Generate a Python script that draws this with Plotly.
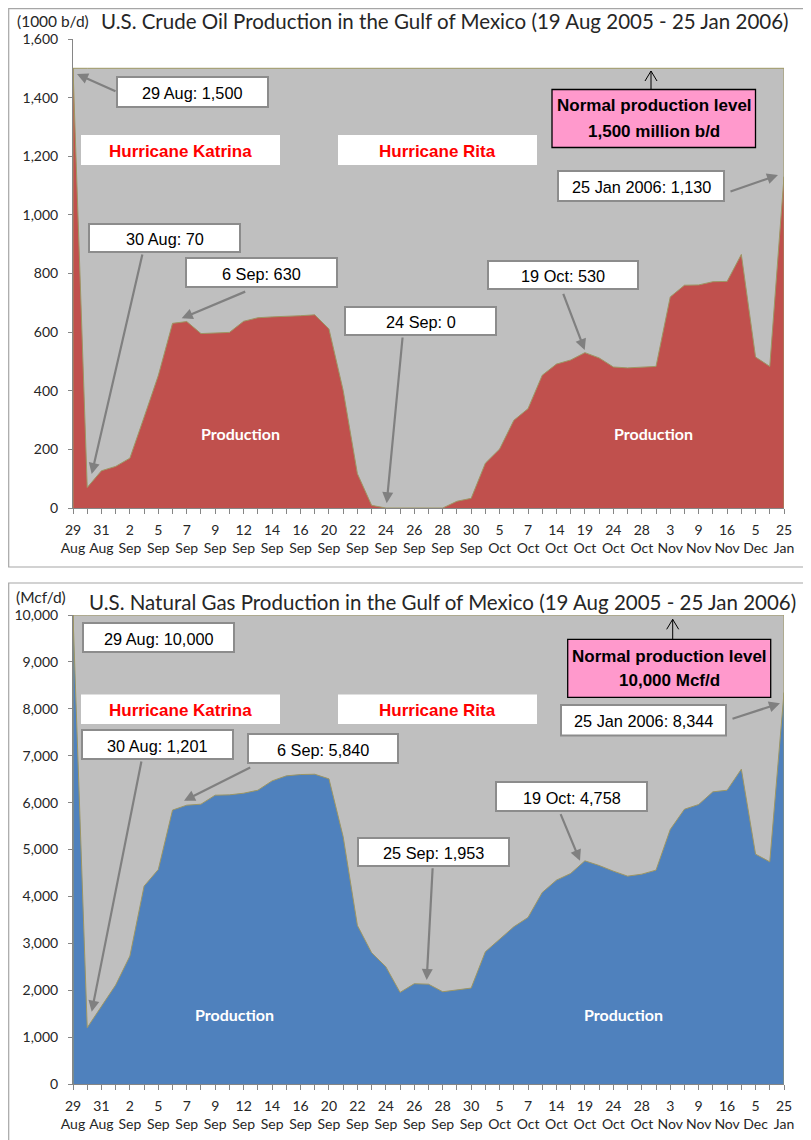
import plotly.graph_objects as go

# ---------------- data ----------------
dates = ["29 Aug", "30 Aug", "31 Aug", "1 Sep", "2 Sep", "3 Sep", "5 Sep", "6 Sep", "7 Sep", "8 Sep",
         "9 Sep", "10 Sep", "12 Sep", "13 Sep", "14 Sep", "15 Sep", "16 Sep", "19 Sep", "20 Sep", "21 Sep",
         "22 Sep", "23 Sep", "24 Sep", "25 Sep", "26 Sep", "27 Sep", "28 Sep", "29 Sep", "30 Sep", "3 Oct",
         "5 Oct", "6 Oct", "7 Oct", "12 Oct", "14 Oct", "17 Oct", "19 Oct", "21 Oct", "24 Oct", "26 Oct",
         "28 Oct", "31 Oct", "3 Nov", "7 Nov", "9 Nov", "14 Nov", "16 Nov", "23 Nov", "5 Dec", "12 Dec",
         "25 Jan"]

tick_labels = ["29<br>Aug", "31<br>Aug", "2<br>Sep", "5<br>Sep", "7<br>Sep", "9<br>Sep", "12<br>Sep",
               "14<br>Sep", "16<br>Sep", "20<br>Sep", "22<br>Sep", "24<br>Sep", "26<br>Sep", "28<br>Sep",
               "30<br>Sep", "5<br>Oct", "7<br>Oct", "14<br>Oct", "19<br>Oct", "24<br>Oct", "28<br>Oct",
               "3<br>Nov", "9<br>Nov", "16<br>Nov", "5<br>Dec", "25<br>Jan"]

oil_production = [1500, 70, 127, 142, 170, 310, 452, 630, 636, 595,
                  598, 599, 637, 649, 652, 653, 656, 659, 611, 401,
                  117, 9, 0, 0, 0, 0, 0, 23, 33, 153,
                  201, 299, 339, 453, 491, 505, 530, 512, 481, 478,
                  481, 483, 720, 760, 761, 772, 773, 865, 515, 483,
                  1130]

gas_production = [10000, 1201, 1650, 2109, 2727, 4219, 4574, 5840, 5945, 5966,
                  6158, 6165, 6200, 6264, 6463, 6570, 6598, 6605, 6506, 5270,
                  3381, 2798, 2500, 1953, 2138, 2128, 1967, 2010, 2045, 2820,
                  3082, 3352, 3551, 4084, 4347, 4489, 4758, 4659, 4538, 4432,
                  4474, 4560, 5426, 5859, 5959, 6229, 6264, 6712, 4901, 4737,
                  8344]

oil_normal = 1500
gas_normal = 10000

# ---------------- helpers ----------------
# the page body has an 8px margin, so the figure starts at (8, 8) on screen
OFF = 8
W, H = 803, 1132


def px(x):
    return (x - OFF) / W


def py(y):
    return 1 - (y - OFF) / H


n = len(dates)
idx = list(range(n))
poly_x = [0] + idx + [n - 1]

OLIVE = "#9d9663"
GRAY_FILL = "#bfbfbf"
AXIS_GRAY = "#868686"
TXT = "#262626"

fig = go.Figure()


def add_chart(xa, ya, prod, normal, color):
    fig.add_trace(go.Scatter(x=poly_x, y=[0] + [normal] * n + [0], fill="toself",
                             fillcolor=GRAY_FILL, line=dict(color=OLIVE, width=1),
                             mode="lines", hoverinfo="skip", showlegend=False,
                             xaxis=xa, yaxis=ya))
    fig.add_trace(go.Scatter(x=poly_x, y=[0] + prod + [0], fill="toself",
                             fillcolor=color, line=dict(color=OLIVE, width=1),
                             mode="lines", text=[""] + dates + [""], showlegend=False,
                             xaxis=xa, yaxis=ya))


add_chart("x", "y", oil_production, oil_normal, "#c0504d")
add_chart("x2", "y2", gas_production, gas_normal, "#4f81bd")

allvals = list(range(n))
alltext = [tick_labels[i // 2] if i % 2 == 0 else "" for i in allvals]

xcommon = dict(range=[0, n - 1], tickmode="array", tickvals=allvals, ticktext=alltext,
               ticks="outside", ticklen=5, tickcolor=AXIS_GRAY, showline=True,
               linecolor=AXIS_GRAY, linewidth=1, showgrid=False, zeroline=False,
               automargin=False, ticklabelstandoff=4, tickangle=0,
               tickfont=dict(family="Lato", size=14, color=TXT), domain=[px(73), px(784)],
               fixedrange=True)
ycommon = dict(ticks="outside", ticklen=4, tickcolor=AXIS_GRAY, showline=True,
               linecolor=AXIS_GRAY, linewidth=1, showgrid=True, gridcolor=AXIS_GRAY,
               gridwidth=1, zeroline=False, tickformat=",", automargin=False,
               ticklabelstandoff=7,
               tickfont=dict(family="Lato", size=14, color=TXT), fixedrange=True)

fig.update_layout(
    template="none",
    width=W, height=H, autosize=False,
    margin=dict(l=0, r=0, t=0, b=0, pad=0),
    paper_bgcolor="white", plot_bgcolor="white",
    xaxis=dict(anchor="y", **xcommon),
    yaxis=dict(anchor="x", range=[0, 1600], dtick=200, domain=[py(508), py(39)], **ycommon),
    xaxis2=dict(anchor="y2", **xcommon),
    yaxis2=dict(anchor="x2", range=[0, 10000], dtick=1000, domain=[py(1084), py(615)], **ycommon),
)

shapes = []
annotations = []

# outer chart frames
shapes.append(dict(type="rect", xref="paper", yref="paper", x0=px(8.7), x1=px(810.3),
                   y0=py(567), y1=py(8.7), line=dict(color="#a6a6a6", width=1.2)))
shapes.append(dict(type="rect", xref="paper", yref="paper", x0=px(8.7), x1=px(810.3),
                   y0=py(1146), y1=py(583), line=dict(color="#a6a6a6", width=1.2)))


def text(x, y, s, size=16.3, color="black", family="Liberation Sans", bold=False, xanchor="center"):
    if bold:
        s = "<b>" + s + "</b>"
    annotations.append(dict(xref="paper", yref="paper", x=px(x), y=py(y), text=s,
                            showarrow=False, xanchor=xanchor, yanchor="middle",
                            font=dict(family=family, size=size, color=color)))


def box(x0, y0, x1, y1, label, fill="white", line="#8c8c8c", lw=2, color="black", bold=False, size=16.3):
    shapes.append(dict(type="rect", xref="paper", yref="paper", x0=px(x0), x1=px(x1),
                       y0=py(y1), y1=py(y0), fillcolor=fill,
                       line=dict(color=line, width=lw) if lw else dict(width=0)))
    if label:
        text((x0 + x1) / 2, (y0 + y1) / 2 + 1, label, size=size, color=color, bold=bold)


def arrow(tail, tip):
    annotations.append(dict(xref="paper", yref="paper", x=px(tip[0]), y=py(tip[1]),
                            ax=tail[0] - tip[0], ay=tail[1] - tip[1], axref="pixel", ayref="pixel",
                            text="", showarrow=True, arrowhead=2, arrowsize=1, arrowwidth=2.2,
                            arrowcolor="#808080", standoff=0, startstandoff=0))


def normal_arrow(x, ytop, ybot):
    shapes.append(dict(type="path", xref="paper", yref="paper",
                       path=f"M {px(x)},{py(ybot)} L {px(x)},{py(ytop)} "
                            f"M {px(x - 6)},{py(ytop + 10)} L {px(x)},{py(ytop)} L {px(x + 6)},{py(ytop + 10)}",
                       line=dict(color="black", width=1)))


BOLD_SIZE = 17

# ---------- oil chart ----------
text(445, 21, "U.S. Crude Oil Production in the Gulf of Mexico (19 Aug 2005 - 25 Jan 2006)",
     size=20.5, color=TXT, family="Lato")
text(15, 21, "(1000 b/d)", size=15.5, color=TXT, family="Lato", xanchor="left")

box(117, 77, 268, 107, "29 Aug: 1,500")
arrow((117, 92), (77, 74))
box(81, 135, 280, 165, "Hurricane Katrina", lw=0, color="#ff0000", bold=True, size=BOLD_SIZE)
box(338, 135, 537, 165, "Hurricane Rita", lw=0, color="#ff0000", bold=True, size=BOLD_SIZE)
shapes.append(dict(type="rect", xref="paper", yref="paper", x0=px(552), x1=px(755.5),
                   y0=py(147.5), y1=py(89.5), fillcolor="#ff99cc", line=dict(color="black", width=1.3)))
text(654, 106, "Normal production level", bold=True, size=BOLD_SIZE)
text(654, 131, "1,500 million b/d", bold=True, size=BOLD_SIZE)
normal_arrow(651, 71, 89.5)
box(558, 171, 724, 201, "25 Jan 2006: 1,130")
arrow((729, 192), (778, 175))
box(89, 224, 240, 252, "30 Aug: 70")
arrow((142.7, 253), (91.7, 474))
box(186, 258, 337, 287, "6 Sep: 630")
arrow((246.7, 291), (181.7, 318.3))
box(345, 307, 496, 335, "24 Sep: 0")
arrow((402.7, 336), (386.7, 503.3))
box(488, 261, 638, 289, "19 Oct: 530")
arrow((562.7, 292.3), (584.7, 350))
text(240, 433.5, "Production", size=16, color="white", family="Lato", bold=True)
text(653, 433.5, "Production", size=16, color="white", family="Lato", bold=True)

# ---------- gas chart ----------
text(443, 602, "U.S. Natural Gas Production in the Gulf of Mexico (19 Aug 2005 - 25 Jan 2006)",
     size=20.5, color=TXT, family="Lato")
text(14, 597, "(Mcf/d)", size=15.5, color=TXT, family="Lato", xanchor="left")

box(83, 623, 234, 652, "29 Aug: 10,000")
box(81, 694.5, 280, 724, "Hurricane Katrina", lw=0, color="#ff0000", bold=True, size=BOLD_SIZE)
box(338, 694.5, 537, 724, "Hurricane Rita", lw=0, color="#ff0000", bold=True, size=BOLD_SIZE)
shapes.append(dict(type="rect", xref="paper", yref="paper", x0=px(567.7), x1=px(770.7),
                   y0=py(697.3), y1=py(639.3), fillcolor="#ff99cc", line=dict(color="black", width=1.3)))
text(669, 656, "Normal production level", bold=True, size=BOLD_SIZE)
text(669, 680, "10,000 Mcf/d", bold=True, size=BOLD_SIZE)
normal_arrow(672.7, 619.3, 639.3)
box(561, 705, 726, 735.5, "25 Jan 2006: 8,344")
arrow((731, 719.3), (780, 703.3))
box(82, 730, 233, 759, "30 Aug: 1,201")
arrow((141.7, 760), (91.7, 1011.7))
box(248, 734, 398, 763, "6 Sep: 5,840")
arrow((251.7, 766.7), (184, 800.7))
box(358, 838, 509, 866, "25 Sep: 1,953")
arrow((432.7, 866.7), (426.7, 980))
box(496, 782, 647, 811, "19 Oct: 4,758")
arrow((560, 812.7), (580, 860.7))
text(234, 1014.5, "Production", size=16, color="white", family="Lato", bold=True)
text(623, 1014.5, "Production", size=16, color="white", family="Lato", bold=True)

fig.update_layout(shapes=shapes, annotations=annotations)
fig.write_html("out.html")
